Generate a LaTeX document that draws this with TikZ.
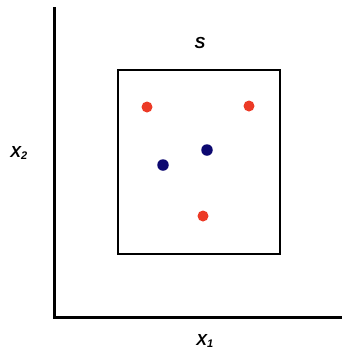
\documentclass[tikz,border=0pt]{standalone}
\usepackage{fontspec}
\newfontfamily\lblfont{Liberation Sans Bold Italic}
\usepackage{tikz}
\usetikzlibrary{positioning}
\definecolor{ptred}{RGB}{236,58,38}
\definecolor{ptblue}{RGB}{12,8,112}

\begin{document}
\begin{tikzpicture}[x=1pt, y=-1pt, font=\lblfont\fontsize{16}{18}\selectfont,
 axis/.style={line width=3pt, line cap=rect},
 region/.style={draw, line width=2pt, inner sep=0pt},
 redpt/.style={circle, fill=ptred, inner sep=0pt, minimum size=11pt},
 bluept/.style={circle, fill=ptblue, inner sep=0pt, minimum size=11.5pt},
 lbl/.style={inner sep=0pt}]
\useasboundingbox (0,0) rectangle (341,349);
\coordinate (top) at (54,8);
\coordinate (orig) at (54,317);
\coordinate (right) at (341,317);
\draw[axis] (top) -- (orig) -- (right);
\node[region, minimum width=162pt, minimum height=184pt] (box) at (199,162) {};
\node[lbl] (s) at (200,43) {S};
\node[lbl] (x2) at (19,153) {X\textsubscript{\fontsize{11}{12}\selectfont 2}};
\node[lbl] (x1) at (205,341) {X\textsubscript{\fontsize{11}{12}\selectfont 1}};
\node[redpt] (r1) at (147,107) {};
\node[redpt] (r2) at (249,106) {};
\node[redpt] (r3) at (203,216) {};
\node[bluept] (b1) at (207,150) {};
\node[bluept] (b2) at (163,165) {};
\end{tikzpicture}
\end{document}
